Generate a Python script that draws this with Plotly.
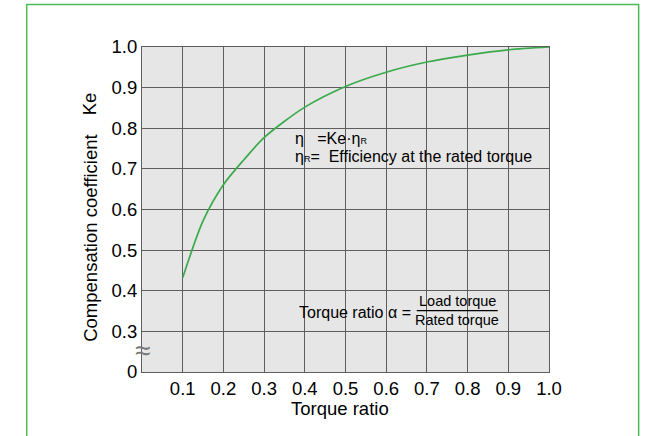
import plotly.graph_objects as go

# Data
torque_ratio = [0.1, 0.15, 0.2, 0.25, 0.3, 0.4, 0.5, 0.6, 0.7, 0.8, 0.9, 1.0]
ke_values = [0.432, 0.572, 0.661, 0.722, 0.777, 0.852, 0.903, 0.938, 0.963, 0.980, 0.993, 1.0]

x_tick_vals = [0.1, 0.2, 0.3, 0.4, 0.5, 0.6, 0.7, 0.8, 0.9, 1.0]
x_tick_text = ["0.1", "0.2", "0.3", "0.4", "0.5", "0.6", "0.7", "0.8", "0.9", "1.0"]
# bottom of the broken axis (position 0.2) is labelled 0
y_tick_vals = [0.2, 0.3, 0.4, 0.5, 0.6, 0.7, 0.8, 0.9, 1.0]
y_tick_text = ["0", "0.3", "0.4", "0.5", "0.6", "0.7", "0.8", "0.9", "1.0"]

FONT = "Arial, Liberation Sans, Helvetica, sans-serif"
TXT = "#000000"
GREEN_LINE = "#3aaa4a"
GREEN_BORDER = "#4cbb55"
GRID = "#5e5e5e"

fig = go.Figure()
fig.add_trace(go.Scatter(
    x=torque_ratio, y=ke_values, mode="lines",
    line=dict(color=GREEN_LINE, width=1.7, shape="spline", smoothing=0.8),
    hoverinfo="skip", showlegend=False,
))

fig.update_layout(
    width=649, height=436,
    margin=dict(l=142, r=100, t=47, b=64, pad=0),
    paper_bgcolor="white", plot_bgcolor="#e6e6e6",
    font=dict(family=FONT, color=TXT, size=16),
    showlegend=False,
)
fig.update_xaxes(
    range=[0, 1.0], tickvals=x_tick_vals, ticktext=x_tick_text,
    showgrid=True, gridcolor=GRID, gridwidth=1,
    showline=True, linecolor=GRID, linewidth=1, mirror=True,
    ticks="", zeroline=False, tickfont=dict(size=18.5, color=TXT),
    fixedrange=True,
)
fig.update_yaxes(
    range=[0.2, 1.0], tickvals=y_tick_vals, ticktext=y_tick_text,
    showgrid=True, gridcolor=GRID, gridwidth=1,
    showline=True, linecolor=GRID, linewidth=1, mirror=True,
    ticks="", zeroline=False, tickfont=dict(size=18.5, color=TXT),
    fixedrange=True,
)

# outer green frame
fig.add_shape(type="rect", xref="paper", yref="paper",
              x0=-0.2833, x1=1.2203, y0=-0.25, y1=1.131,
              line=dict(color=GREEN_BORDER, width=1.5), fillcolor="rgba(0,0,0,0)",
              layer="below")

nb = "\u00a0"
sub_r = "<span style='font-size:9px'>R</span>"


def pa(text, x, y, **kw):
    d = dict(text=text, xref="paper", yref="paper", x=x, y=y,
             xanchor="center", yanchor="middle", showarrow=False)
    d.update(kw)
    return d


def da(text, x, y, **kw):
    d = dict(text=text, xref="x", yref="y", x=x, y=y,
             xanchor="center", yanchor="middle", showarrow=False)
    d.update(kw)
    return d


ann = [
    # axis titles
    pa("Compensation coefficient", -0.1285, 0.412, textangle=-90, font=dict(size=18.5)),
    pa("Ke", -0.1285, 0.826, textangle=-90, font=dict(size=18.5)),
    pa("Torque ratio", 0.486, -0.112, font=dict(size=18.5)),
    # formula texts
    da("η" + nb + nb + nb + "=Ke·η" + sub_r, 0.370, 0.774, xanchor="left", font=dict(size=16)),
    da("η" + sub_r + "=" + nb + nb + "Efficiency at the rated torque", 0.370, 0.731,
       xanchor="left", font=dict(size=16)),
    da("Torque ratio α =", 0.665, 0.346, xanchor="right", font=dict(size=16)),
    da("Load torque", 0.775, 0.375, font=dict(size=14.5)),
    da("Rated torque", 0.775, 0.328, font=dict(size=14.5)),
    # axis break mark
    pa("≈", 0.0, 0.066, font=dict(size=28, color="#777777")),
]
fig.update_layout(annotations=ann)
fig.add_shape(type="line", xref="x", yref="y", x0=0.675, x1=0.874, y0=0.351, y1=0.351,
              line=dict(color=TXT, width=1.3))

fig.write_html("out.html", config={"displayModeBar": False},
               post_script="document.body.style.margin='0';")
